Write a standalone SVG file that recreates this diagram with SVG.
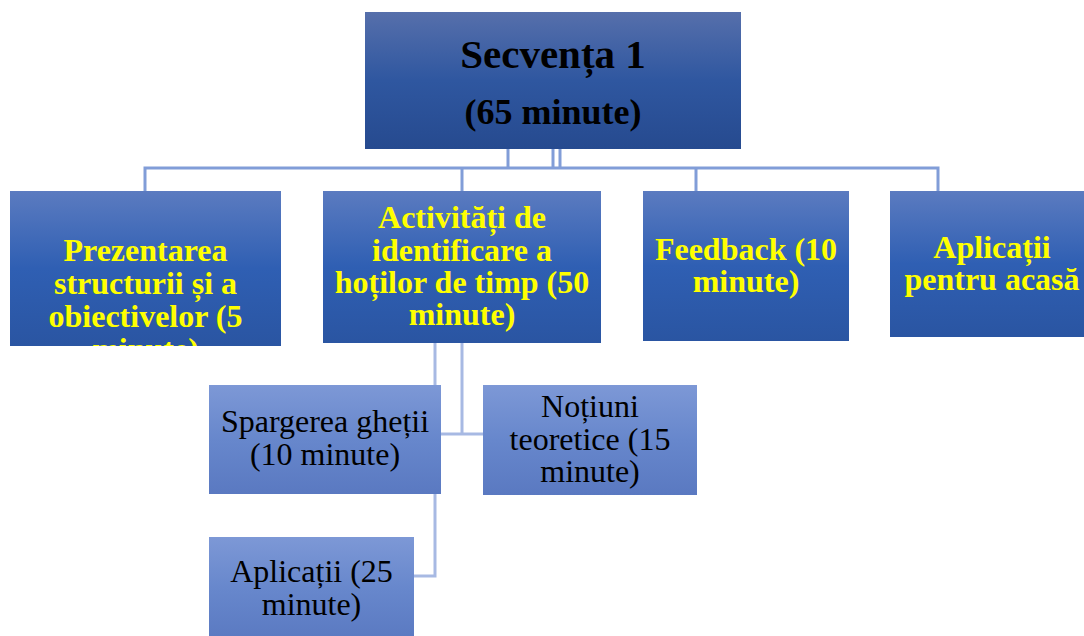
<svg xmlns="http://www.w3.org/2000/svg" width="1084" height="636" viewBox="0 0 1084 636">
<defs>
<linearGradient id="gTop" x1="0" y1="0" x2="0" y2="1"><stop offset="0" stop-color="#566fab"/><stop offset="0.5" stop-color="#2f57a0"/><stop offset="1" stop-color="#264a8f"/></linearGradient>
<linearGradient id="gL1" x1="0" y1="0" x2="0" y2="1"><stop offset="0" stop-color="#5b7bc0"/><stop offset="0.5" stop-color="#2f5fb3"/><stop offset="1" stop-color="#2a55a2"/></linearGradient>
<linearGradient id="gL2" x1="0" y1="0" x2="0" y2="1"><stop offset="0" stop-color="#7d98d6"/><stop offset="0.5" stop-color="#6787cc"/><stop offset="1" stop-color="#5a79c1"/></linearGradient>
<clipPath id="c1"><rect x="10" y="191" width="271" height="155"/></clipPath>
</defs>
<style>
.l1c{fill:none;stroke:#819dd8;stroke-width:3}
.l2c{fill:none;stroke:#a7b9e3;stroke-width:3}
.top{fill:url(#gTop)}
.l1{fill:url(#gL1)}
.l2{fill:url(#gL2)}
.tt{font-family:"Liberation Serif",serif;font-weight:bold;fill:#000;text-anchor:middle}
.y{font-family:"Liberation Serif",serif;font-weight:bold;font-size:32px;fill:#ffff00;text-anchor:middle}
.b{font-family:"Liberation Serif",serif;font-size:32px;fill:#000;text-anchor:middle}
</style>
<g id="connectors">
<path class="l1c" d="M508 149V168M553 149V168M560 149V168M145 191V168H938V191M462 168V191M696 168V191"/>
<path class="l2c" d="M435 343V576H414M462 343V434H483M441 434H462"/>
</g>
<g id="n0">
<rect class="top" x="365" y="12" width="376" height="137"/>
<text class="tt" x="553" y="68" font-size="41">Secvența 1</text>
<text class="tt" x="553" y="124" font-size="36">(65 minute)</text>
</g>
<g id="n1">
<rect class="l1" x="10" y="191" width="271" height="155"/>
<g clip-path="url(#c1)">
<text class="y" x="145.5" y="261">Prezentarea</text>
<text class="y" x="145.5" y="294">structurii și a</text>
<text class="y" x="145.5" y="327">obiectivelor (5</text>
<text class="y" x="145.5" y="360">minute)</text>
</g>
</g>
<g id="n2">
<rect class="l1" x="323" y="191" width="278" height="152"/>
<text class="y" x="462" y="228">Activități de</text>
<text class="y" x="462" y="261">identificare a</text>
<text class="y" x="462" y="293">hoților de timp (50</text>
<text class="y" x="462" y="325">minute)</text>
</g>
<g id="n3">
<rect class="l1" x="643" y="191" width="206" height="150"/>
<text class="y" x="746" y="260">Feedback (10</text>
<text class="y" x="746" y="292">minute)</text>
</g>
<g id="n4">
<rect class="l1" x="890" y="191" width="204" height="146"/>
<text class="y" x="992" y="258">Aplicații</text>
<text class="y" x="992" y="290">pentru acasă</text>
</g>
<g id="n5">
<rect class="l2" x="209" y="385" width="232" height="109"/>
<text class="b" x="325" y="432">Spargerea gheții</text>
<text class="b" x="325" y="465">(10 minute)</text>
</g>
<g id="n6">
<rect class="l2" x="483" y="385" width="214" height="110"/>
<text class="b" x="590" y="417">Noțiuni</text>
<text class="b" x="590" y="450">teoretice (15</text>
<text class="b" x="590" y="482">minute)</text>
</g>
<g id="n7">
<rect class="l2" x="209" y="537" width="205" height="104"/>
<text class="b" x="311.5" y="582">Aplicații (25</text>
<text class="b" x="311.5" y="615">minute)</text>
</g>
</svg>
